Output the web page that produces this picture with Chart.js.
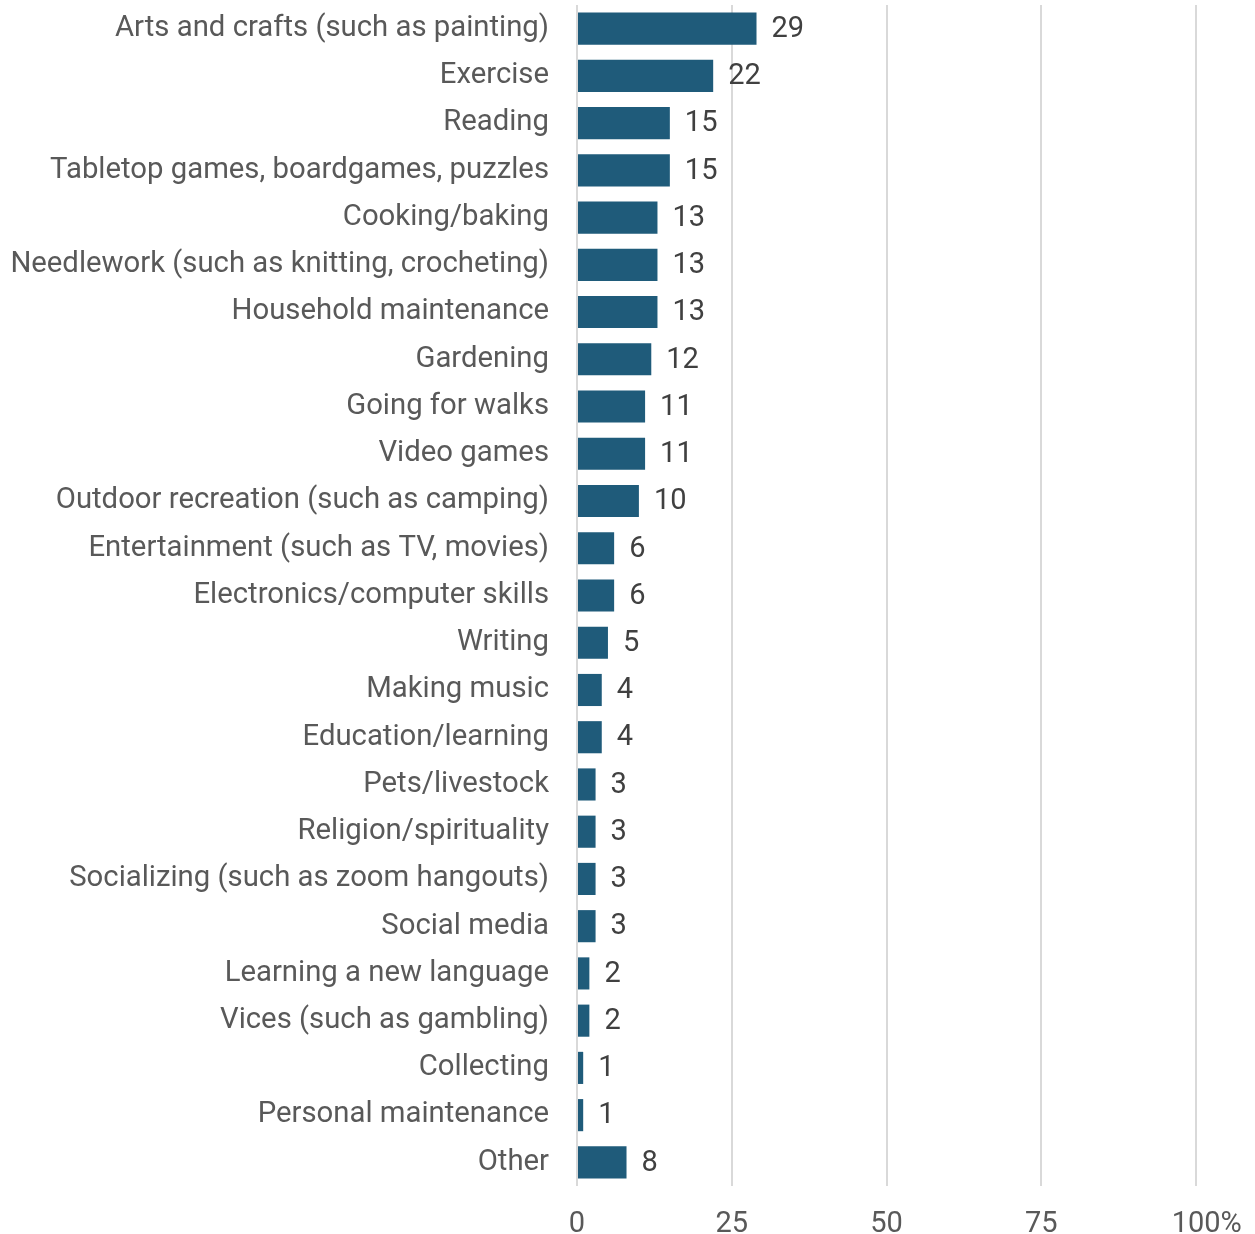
<!DOCTYPE html>
<html>
<head>
<meta charset="utf-8">
<script src="https://cdn.jsdelivr.net/npm/chart.js@4"></script>
<style>
  html,body{margin:0;padding:0;background:#fff;}
  #wrap{width:1255px;height:1234px;position:relative;}
</style>
</head>
<body>
<div id="wrap"><canvas id="c"></canvas></div>
<script>
// hobbies chart: horizontal bars, value labels drawn next to each bar
const CATEGORIES = [
  "Arts and crafts (such as painting)","Exercise","Reading","Tabletop games, boardgames, puzzles",
  "Cooking/baking","Needlework (such as knitting, crocheting)","Household maintenance","Gardening",
  "Going for walks","Video games","Outdoor recreation (such as camping)","Entertainment (such as TV, movies)",
  "Electronics/computer skills","Writing","Making music","Education/learning","Pets/livestock",
  "Religion/spirituality","Socializing (such as zoom hangouts)","Social media","Learning a new language",
  "Vices (such as gambling)","Collecting","Personal maintenance","Other"
];
const VALUES = [29,22,15,15,13,13,13,12,11,11,10,6,6,5,4,4,3,3,3,3,2,2,1,1,8];
const X_TICKS = [0,25,50,75,100];

const BAR_COLOR = "#1f5b7a";
const FONT = "Roboto";

const valueLabels = {
  id: "valueLabels",
  afterDatasetsDraw(chart){
    const ctx = chart.ctx;
    const meta = chart.getDatasetMeta(0);
    ctx.save();
    ctx.font = `29px ${FONT}`;
    ctx.fillStyle = "#404040";
    ctx.textAlign = "left";
    ctx.textBaseline = "middle";
    meta.data.forEach((bar, i) => {
      ctx.fillText(String(VALUES[i]), bar.x + 15, bar.y + 1);
    });
    ctx.restore();
  }
};

new Chart(document.getElementById("c"), {
  type: "bar",
  data: {
    labels: CATEGORIES,
    datasets: [{ data: VALUES, backgroundColor: BAR_COLOR, categoryPercentage: 1, barPercentage: 0.68 }]
  },
  options: {
    indexAxis: "y",
    responsive: true,
    maintainAspectRatio: false,
    animation: false,
    layout: { padding: { top: 5, right: 59, left: 0, bottom: 0 } },
    plugins: { legend: { display: false }, tooltip: { enabled: false } },
    scales: {
      x: {
        min: 0, max: 100,
        afterBuildTicks(scale){ scale.ticks = X_TICKS.map(v => ({ value: v })); },
        afterFit(scale){ scale.height = 48; scale.paddingLeft = 0; scale.paddingRight = 0; },
        grid: { color: "#d9d9d9", lineWidth: 2, drawTicks: false },
        border: { display: false },
        ticks: {
          padding: 21,
          color: "#595959",
          font: { family: FONT, size: 29 },
          callback: v => v === 100 ? "   100%" : String(v)
        }
      },
      y: {
        afterFit(scale){ scale.width = 577; scale.paddingTop = 0; scale.paddingBottom = 0; },
        grid: { display: false, drawTicks: false },
        border: { display: false },
        ticks: {
          padding: 28,
          color: "#595959",
          font: { family: FONT, size: 29.3 },
          autoSkip: false
        }
      }
    }
  },
  plugins: [valueLabels]
});
</script>
</body>
</html>
